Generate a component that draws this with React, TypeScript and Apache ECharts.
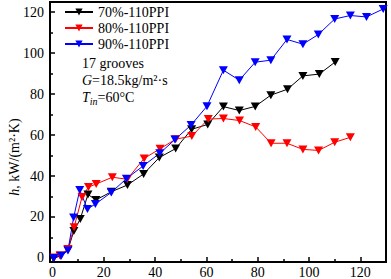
import React, { useEffect, useRef } from "react";
import * as echarts from "echarts";

const x70 = [0.5, 3, 6, 8.3, 10.8, 13.8, 16.9, 22.9, 29.2, 35.5, 41.6, 48, 54.2, 60.5, 66.6, 72.8, 79, 85.1, 91.6, 97.6, 104, 110.2];
const h70 = [0, 1, 4, 13.2, 19, 31, 28.3, 32.3, 35.6, 41, 49, 53.4, 62.8, 65.2, 73.9, 72, 74, 79.5, 82.4, 88.9, 89.8, 95.7];

const x80 = [0.5, 3, 6, 8.4, 11.5, 14, 17, 23.3, 29.1, 35.7, 41.9, 48, 54.3, 60.7, 66.6, 72.9, 79.2, 85.2, 91.4, 97.6, 103.7, 110, 116.1];
const h80 = [0.2, 1.2, 4.4, 15, 29.8, 34.6, 36.1, 39.4, 38.4, 48.6, 53.3, 58, 59.5, 67.8, 68.1, 67.1, 64, 56, 56, 53, 52.5, 56.5, 58.9];

const x90 = [0.5, 3.4, 6, 8.2, 10.6, 13.6, 16.7, 22.9, 28.8, 35.3, 41.8, 47.7, 54, 60.2, 66.6, 72.8, 79, 85.1, 91.4, 97.6, 103.6, 110, 116.1, 122.4, 128.9];
const h90 = [0, 1, 3.6, 19.7, 33.2, 23.9, 26.3, 32, 38.7, 44.9, 51.1, 57.8, 64.9, 74.1, 91.7, 86.8, 95.6, 96.6, 106.7, 104.4, 109.1, 116.7, 118.4, 117.7, 121.6];

const seriesNames = ["70%-110PPI", "80%-110PPI", "90%-110PPI"];
const seriesColors = ["#000000", "#ff0000", "#0000ff"];

const xMajor = [0, 20, 40, 60, 80, 100, 120];
const xMinor = [10, 30, 50, 70, 90, 110, 130];
const yMajor = [0, 20, 40, 60, 80, 100, 120];
const yMinor = [10, 30, 50, 70, 90, 110];

const FONT = "'Liberation Serif', 'Times New Roman', serif";

export default function App() {
  const ref = useRef<HTMLDivElement>(null);
  useEffect(() => {
    if (!ref.current) return;
    const chart = echarts.init(ref.current, null, { renderer: "svg" });
    const pairs = [
      x70.map((x, i) => [x, h70[i]]),
      x80.map((x, i) => [x, h80[i]]),
      x90.map((x, i) => [x, h90[i]]),
    ];
    const axisCommon = {
      type: "value" as const,
      splitLine: { show: false },
    };
    chart.setOption({
      animation: false,
      grid: {
        left: 50,
        right: 5,
        top: 2,
        bottom: 17,
        show: true,
        borderColor: "#000",
        borderWidth: 2,
        backgroundColor: "transparent",
      },
      xAxis: [
        {
          ...axisCommon,
          min: -1,
          max: 130,
          axisLine: { show: true, onZero: false, lineStyle: { color: "#000", width: 2 } },
          axisTick: { show: true, inside: true, length: 5, customValues: xMajor, lineStyle: { color: "#000", width: 1.5 } },
          axisLabel: { customValues: xMajor, color: "#000", fontSize: 14, fontFamily: FONT, margin: 3 },
        },
        {
          ...axisCommon,
          min: -1,
          max: 130,
          position: "bottom",
          axisLine: { show: false, onZero: false },
          axisTick: { show: true, inside: true, length: 3, customValues: xMinor, lineStyle: { color: "#000", width: 1.5 } },
          axisLabel: { show: false },
        },
      ],
      yAxis: [
        {
          ...axisCommon,
          min: -2,
          max: 125,
          axisLine: { show: true, onZero: false, lineStyle: { color: "#000", width: 2 } },
          axisTick: { show: true, inside: true, length: 5, customValues: yMajor, lineStyle: { color: "#000", width: 1.5 } },
          axisLabel: { customValues: yMajor, color: "#000", fontSize: 14, fontFamily: FONT, margin: 6 },
        },
        {
          ...axisCommon,
          min: -2,
          max: 125,
          position: "left",
          axisLine: { show: false, onZero: false },
          axisTick: { show: true, inside: true, length: 3, customValues: yMinor, lineStyle: { color: "#000", width: 1.5 } },
          axisLabel: { show: false },
        },
      ],
      legend: {
        orient: "vertical",
        left: 64,
        top: 5,
        padding: 0,
        itemWidth: 28,
        itemHeight: 9,
        itemGap: 2,
        data: seriesNames,
        textStyle: { color: "#000", fontSize: 14, fontFamily: FONT },
      },
      graphic: [
        {
          type: "text",
          x: 82,
          y: 63,
          style: { text: "17 grooves", fill: "#000", font: `14px ${FONT}`, textVerticalAlign: "middle" },
        },
        {
          type: "text",
          x: 82,
          y: 80,
          style: {
            text: "{i|G}=18.5kg/m²·s",
            fill: "#000",
            font: `14px ${FONT}`,
            textVerticalAlign: "middle",
            rich: { i: { fontStyle: "italic", fontSize: 14, fontFamily: FONT } },
          },
        },
        {
          type: "text",
          x: 82,
          y: 97,
          style: {
            text: "{i|T}{s|in}=60°C",
            fill: "#000",
            font: `14px ${FONT}`,
            textVerticalAlign: "middle",
            rich: {
              i: { fontStyle: "italic", fontSize: 14, fontFamily: FONT },
              s: { fontStyle: "italic", fontSize: 10, fontFamily: FONT, padding: [8, 0, 0, 0] },
            },
          },
        },
        {
          type: "text",
          x: 14,
          y: 157,
          rotation: Math.PI / 2,
          style: {
            text: "{i|h}, kW/(m²·K)",
            fill: "#000",
            font: `14px ${FONT}`,
            textAlign: "center",
            textVerticalAlign: "middle",
            rich: { i: { fontStyle: "italic", fontSize: 14, fontFamily: FONT } },
          },
        },
      ],
      series: pairs.map((d, i) => ({
        name: seriesNames[i],
        type: "line",
        data: d,
        xAxisIndex: 0,
        yAxisIndex: 0,
        symbol: "triangle",
        symbolRotate: 180,
        symbolSize: [9, 8],
        showAllSymbol: true,
        color: seriesColors[i],
        lineStyle: { color: seriesColors[i], width: 1 },
        itemStyle: { color: seriesColors[i] },
      })),
    });
    return () => chart.dispose();
  }, []);
  return <div ref={ref} style={{ width: 391, height: 279, position: "absolute", left: 0, top: 0 }} />;
}
